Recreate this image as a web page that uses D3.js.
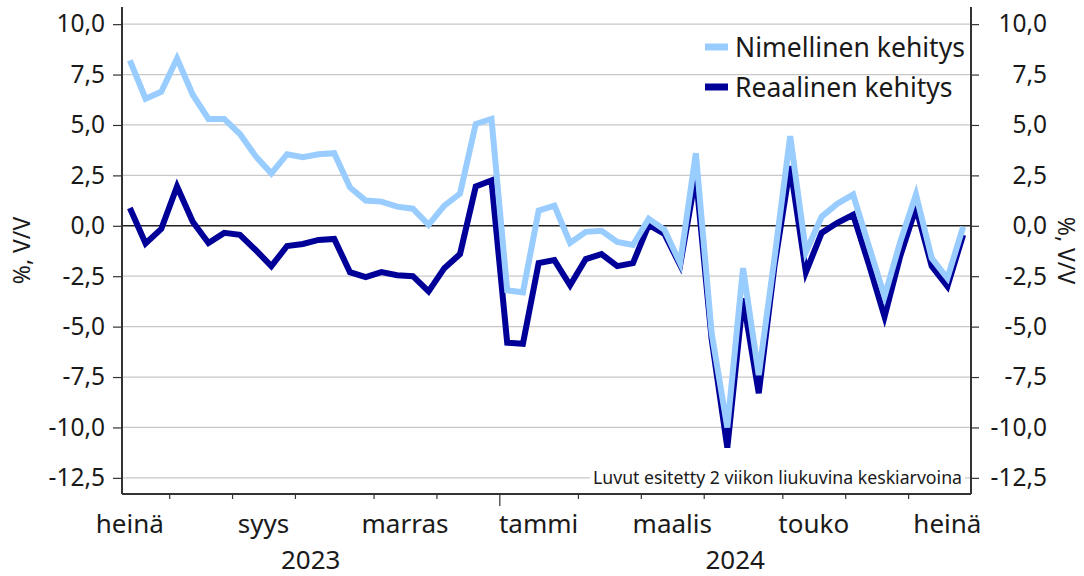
<!DOCTYPE html>
<html>
<head>
<meta charset="utf-8">
<script src="https://d3js.org/d3.v7.min.js"></script>
<style>
  body { margin: 0; background: #fff; }
  svg { display: block; font-family: "Noto Sans", sans-serif; }
  text { fill: #1a1a1a; }
</style>
</head>
<body>
<div id="chart"></div>
<script>
// weekly values, 2 week moving average, % y/y
var nominal = [8.2, 6.3, 6.65, 8.3, 6.5, 5.3, 5.3, 4.55, 3.45, 2.6,
    3.55, 3.4, 3.55, 3.6, 1.9, 1.25, 1.2, 0.95, 0.85, 0.05,
    1.0, 1.6, 5.05, 5.3, -3.2, -3.3, 0.75, 1.0, -0.85, -0.3,
    -0.25, -0.8, -0.95, 0.35, -0.2, -1.85, 3.6, -5.3, -10.0, -2.1,
    -7.4, -1.6, 4.45, -1.3, 0.45, 1.1, 1.55, -1.0, -3.5, -0.8,
    1.55, -1.6, -2.6, -0.05];
var real = [0.88, -0.88, -0.15, 1.95, 0.2, -0.85, -0.35, -0.45, -1.2, -2.0,
    -1.0, -0.9, -0.7, -0.65, -2.3, -2.55, -2.3, -2.45, -2.5, -3.25,
    -2.1, -1.4, 1.95, 2.25, -5.8, -5.85, -1.85, -1.7, -2.95, -1.65,
    -1.4, -2.0, -1.85, 0.05, -0.4, -1.95, 2.5, -5.6, -11.0, -3.6,
    -8.3, -2.0, 2.95, -2.3, -0.35, 0.15, 0.55, -1.9, -4.5, -1.5,
    0.9, -2.0, -3.0, -0.45];

// month starts in week units (week 0 = first data point)
var monthNames = ["heinä", "elo", "syys", "loka", "marras", "joulu", "tammi",
    "helmi", "maalis", "huhti", "touko", "kesä", "heinä"];
var monthStarts = [-2.5, 2.5, 6.5, 10.5, 15.5, 19.5, 23.5, 28.5, 32.5, 36.5, 41.5, 45.5, 49.5, 54.5];
var years = ["2023", "2024"];
var yearStarts = [-2.5, 23.5, 54.5];
var yTicks = [-12.5, -10, -7.5, -5, -2.5, 0, 2.5, 5, 7.5, 10];
var seriesNames = ["Nimellinen kehitys", "Reaalinen kehitys"];
var colors = ["#99ccff", "#000099"];

var width = 1084, height = 576;
var mLeft = 122, mRight = 971, mTop = 7, mBottom = 494;

var svg = d3.select("#chart").append("svg")
    .attr("width", width)
    .attr("height", height);

var x = d3.scaleLinear().domain([-0.5, 53.5]).range([mLeft, mRight]);
var y = d3.scaleLinear().domain([-13.3, 10.85]).range([mBottom, mTop]);

function fmt(d) {
    return (d < 0 ? "-" : "") + Math.abs(d).toFixed(1).replace(".", ",");
}

// grid
svg.append("g").selectAll("line")
    .data(yTicks)
    .enter().append("line")
    .attr("x1", mLeft).attr("x2", mRight)
    .attr("y1", function(d) { return y(d); })
    .attr("y2", function(d) { return y(d); })
    .attr("stroke", function(d) { return d === 0 ? "#222" : "#c8c8c8"; })
    .attr("stroke-width", function(d) { return d === 0 ? 1.5 : 1.2; });

// lines
var line = d3.line()
    .x(function(d, i) { return x(i); })
    .y(function(d) { return y(d); });

[real, nominal].forEach(function(s, k) {
    svg.append("path")
        .datum(s)
        .attr("fill", "none")
        .attr("stroke", k === 0 ? colors[1] : colors[0])
        .attr("stroke-width", 6)
        .attr("stroke-linejoin", "miter")
        .attr("d", line);
});

// left axis
var yl = svg.append("g")
    .attr("transform", "translate(" + mLeft + ",0)")
    .call(d3.axisLeft(y).tickValues(yTicks).tickSize(9).tickPadding(8).tickFormat(fmt));
// right axis
var yr = svg.append("g")
    .attr("transform", "translate(" + mRight + ",0)")
    .call(d3.axisRight(y).tickValues(yTicks).tickSize(8).tickFormat(fmt));
yr.selectAll("text").attr("x", 76).attr("text-anchor", "end");

[yl, yr].forEach(function(g) {
    g.select(".domain").attr("d", "M0," + mTop + "V" + mBottom).attr("stroke", "#333").attr("stroke-width", 2);
    g.selectAll(".tick line").attr("stroke", "#333").attr("stroke-width", 1.2);
    g.selectAll("text").attr("font-size", 24.5).attr("fill", "#1a1a1a").attr("font-family", "Noto Sans");
});

// bottom axis
var xa = svg.append("g")
    .attr("transform", "translate(0," + mBottom + ")")
    .call(d3.axisBottom(x).tickValues(monthStarts.slice(1, -1)).tickSize(5).tickFormat(""));
xa.select(".domain").attr("d", "M" + mLeft + ",0H" + mRight).attr("stroke", "#333").attr("stroke-width", 2);
xa.selectAll(".tick line")
    .attr("stroke", "#333").attr("stroke-width", 1.2)
    .attr("y2", function(d) { return yearStarts.indexOf(d) >= 0 ? 12 : 5; });

// month labels, every other month
var months = monthNames.map(function(n, i) {
    return {name: n, mid: (monthStarts[i] + monthStarts[i + 1]) / 2};
}).filter(function(d, i) { return i % 2 === 0; });

svg.append("g").selectAll("text")
    .data(months)
    .enter().append("text")
    .attr("x", function(d) { return x(d.mid); })
    .attr("y", 533)
    .attr("text-anchor", "middle")
    .attr("font-size", 26)
    .text(function(d) { return d.name; });

svg.append("g").selectAll("text")
    .data(years)
    .enter().append("text")
    .attr("x", function(d, i) {
        var a = Math.max(yearStarts[i], x.domain()[0]);
        var b = Math.min(yearStarts[i + 1], x.domain()[1]);
        return x((a + b) / 2);
    })
    .attr("y", 569)
    .attr("text-anchor", "middle")
    .attr("font-size", 26)
    .text(function(d) { return d; });

// axis titles
svg.append("text")
    .attr("transform", "translate(30," + (mTop + mBottom) / 2 + ") rotate(-90)")
    .attr("text-anchor", "middle")
    .attr("font-size", 23)
    .text("%, V/V");
svg.append("text")
    .attr("transform", "translate(1058," + (mTop + mBottom) / 2 + ") rotate(90)")
    .attr("text-anchor", "middle")
    .attr("font-size", 23)
    .text("%, V/V");

// legend
var leg = svg.append("g");
seriesNames.forEach(function(n, i) {
    var ly = 47 + i * 40;
    leg.append("line")
        .attr("x1", 705).attr("x2", 728)
        .attr("y1", ly).attr("y2", ly)
        .attr("stroke", colors[i])
        .attr("stroke-width", 7);
    leg.append("text")
        .attr("x", 735).attr("y", ly + 10)
        .attr("font-size", 26.5)
        .text(n);
});

// note with white background
var noteG = svg.append("g");
var noteBg = noteG.append("rect").attr("fill", "#fff");
var note = noteG.append("text")
    .attr("x", 962).attr("y", 484)
    .attr("text-anchor", "end")
    .attr("font-size", 17.7)
    .text("Luvut esitetty 2 viikon liukuvina keskiarvoina");
var bb = note.node().getBBox();
noteBg.attr("x", bb.x - 3).attr("y", bb.y)
    .attr("width", bb.width + 6).attr("height", bb.height);
</script>
</body>
</html>
